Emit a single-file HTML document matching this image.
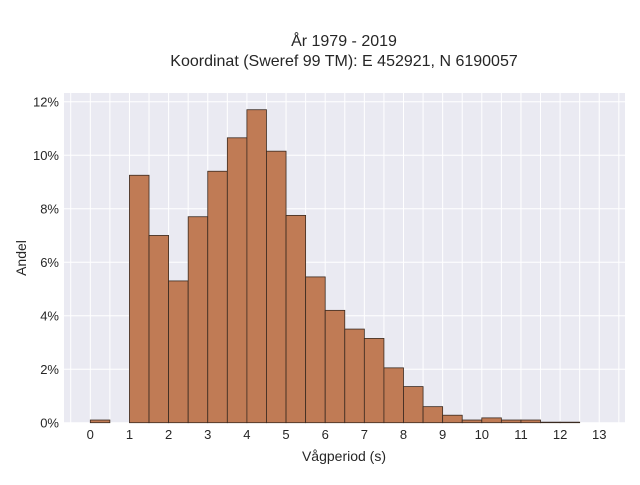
<!DOCTYPE html>
<html><head><meta charset="utf-8"><style>
body{margin:0;background:#fff;font-family:"Liberation Sans",sans-serif}
svg text{font-family:"Liberation Sans",sans-serif;fill:#262626}
</style></head><body>
<svg id="c" width="640" height="480"></svg>
<script>
const binStarts=[0,0.5,1,1.5,2,2.5,3,3.5,4,4.5,5,5.5,6,6.5,7,7.5,8,8.5,9,9.5,10,10.5,11,11.5,12];
const shares=[0.1,0,9.25,7.0,5.3,7.7,9.4,10.65,11.7,10.15,7.75,5.45,4.2,3.5,3.15,2.05,1.35,0.6,0.28,0.1,0.18,0.1,0.1,0.02,0.02];
const xTicks=[0,1,2,3,4,5,6,7,8,9,10,11,12,13];
const yTicks=[0,2,4,6,8,10,12];
const binW=0.5;
const L=64,R=625,T=93,B=423;
const X=v=>90.3+v*39.15, Y=v=>422.7-v*26.75;
const s=document.getElementById('c');const NS='http://www.w3.org/2000/svg';
function mk(t,a,p){const e=document.createElementNS(NS,t);for(const k in a)e.setAttribute(k,a[k]);(p||s).appendChild(e);return e;}
const bg=mk('rect',{x:L,y:T,width:R-L,height:B-T,fill:'#eaeaf2'});


for(let v=-0.5;v<=13.5;v+=0.5){const l=mk('line',{x1:X(v),x2:X(v),y1:T,y2:B,stroke:'#fff','stroke-width':1});

}
yTicks.forEach(v=>{const l=mk('line',{x1:L,x2:R,y1:Y(v),y2:Y(v),stroke:'#fff','stroke-width':1});


const t=mk('text',{x:L-5,y:Y(v)+5,'text-anchor':'end','font-size':13});t.textContent=v+'%';

});
xTicks.forEach(v=>{const t=mk('text',{x:X(v),y:439,'text-anchor':'middle','font-size':13});t.textContent=v;

});
binStarts.forEach((b,i)=>{if(shares[i]<=0)return;const r=mk('rect',{x:X(b),y:Y(shares[i]),width:X(b+binW)-X(b),height:Y(0)-Y(shares[i]),fill:'#c07b55',stroke:'#3a2a20','stroke-width':0.8});

});
let t=mk('text',{x:344,y:461,'text-anchor':'middle','font-size':14});t.textContent='Vågperiod (s)';


t=mk('text',{x:26,y:258,'text-anchor':'middle','font-size':14,transform:'rotate(-90 26 258)'});t.textContent='Andel';


t=mk('text',{x:344,y:46,'text-anchor':'middle','font-size':16});t.textContent='År 1979 - 2019';


t=mk('text',{x:344,y:66,'text-anchor':'middle','font-size':16});t.textContent='Koordinat (Sweref 99 TM): E 452921, N 6190057';


</script>
</body></html>
